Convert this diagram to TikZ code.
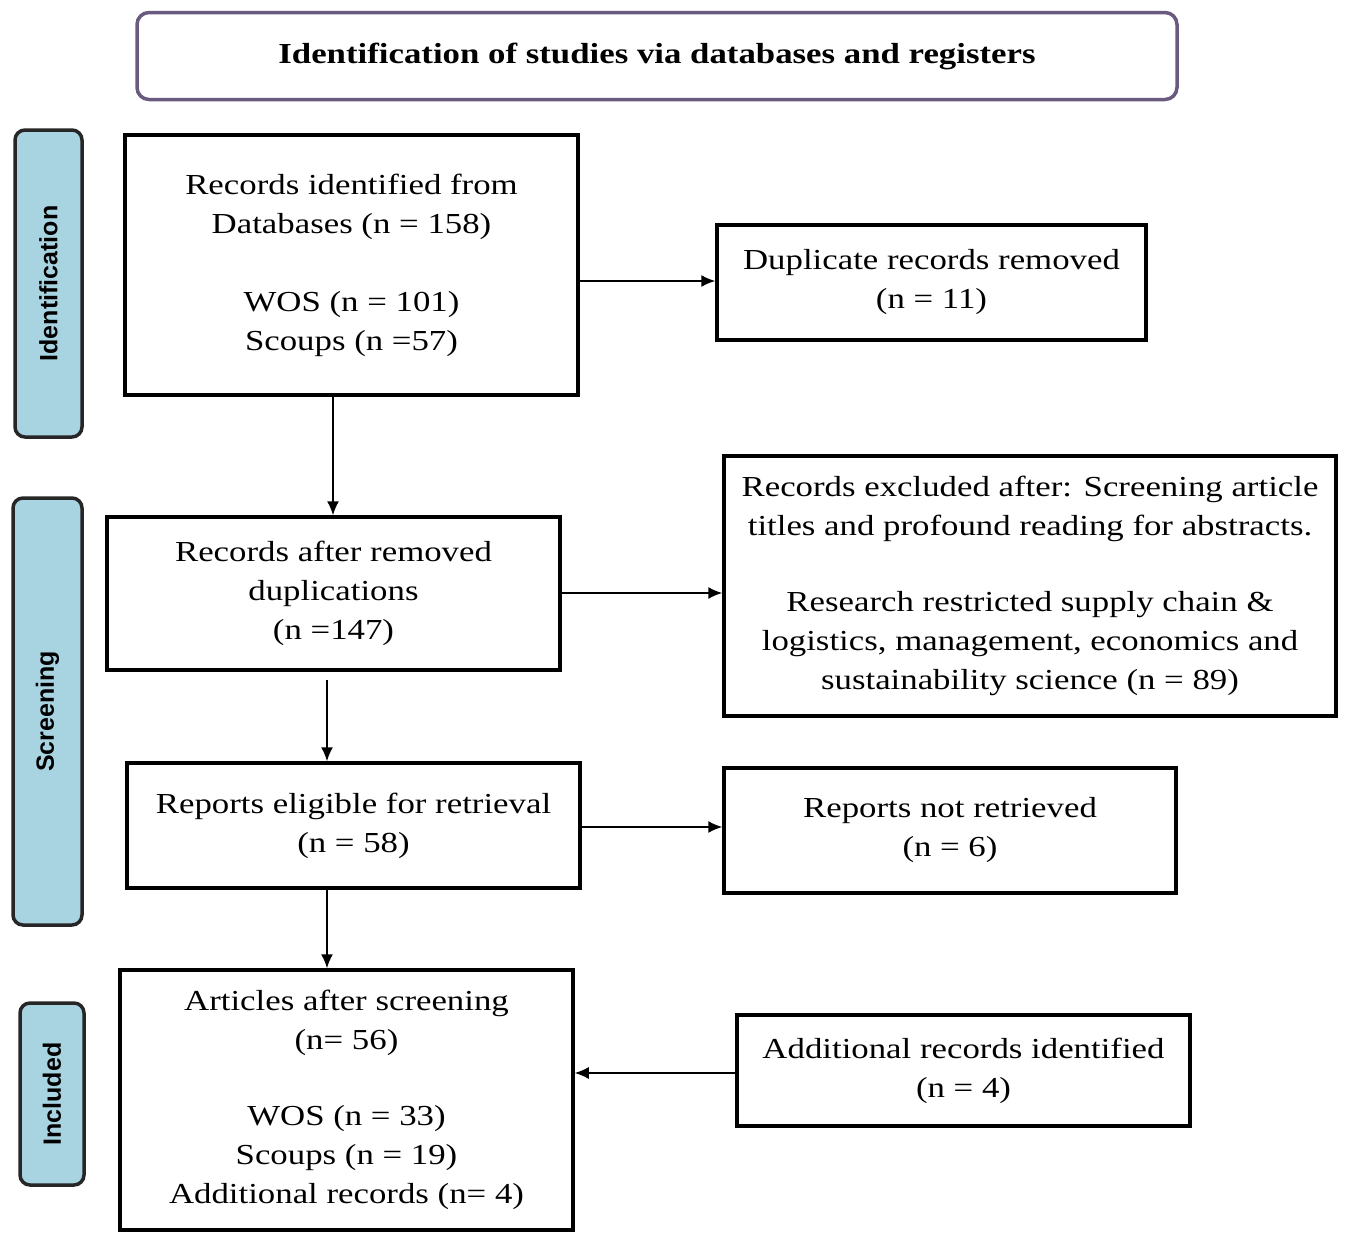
\documentclass[tikz,border=0pt]{standalone}
\usepackage{fontspec}
\setmainfont[FakeStretch=1.2]{Liberation Serif}
\newfontfamily\sidefont{Liberation Sans}
\usetikzlibrary{arrows.meta}
\begin{document}
\begin{tikzpicture}[x=1pt,y=-1pt,
  box/.style={draw,line width=3.5pt,align=center,inner sep=0pt,font=\fontsize{29}{39}\selectfont},
  side/.style={draw=black!85,line width=3.5pt,fill=sideblue,rounded corners=10pt},
  sidetext/.style={rotate=90,font=\sidefont\bfseries\fontsize{25}{30}\selectfont},
  arr/.style={-{Latex[length=14pt,width=12pt]},line width=1.5pt}]
\definecolor{sideblue}{HTML}{A8D4E2}
\definecolor{titlepurple}{HTML}{6A5A80}
\useasboundingbox (0,0) rectangle (1350,1258);
\node[draw=titlepurple,line width=3.5pt,rounded corners=12pt,minimum width=1040pt,minimum height=87pt,font=\bfseries\fontsize{29}{35}\selectfont] (title) at (657,56) {Identification of studies via databases and registers};
\node[side,minimum width=67pt,minimum height=307pt] (s1) at (48.5,283.5) {};
\node[sidetext] (t1) at (s1) {Identification};
\node[side,minimum width=69pt,minimum height=427pt] (s2) at (47.5,711.5) {};
\node[sidetext] (t2) at (s2) {Screening};
\node[side,minimum width=64pt,minimum height=182pt] (s3) at (52,1094) {};
\node[sidetext] (t3) at (s3) {Included};
\node[box,minimum width=453pt,minimum height=260pt] (A) at (351.5,265) {Records identified from\\ Databases (n = 158)\\[39pt] WOS (n = 101)\\ Scoups (n =57)};
\node[box,minimum width=429pt,minimum height=115pt] (B) at (931.5,282.5) {Duplicate records removed\\ (n = 11)};
\node[box,minimum width=453pt,minimum height=153pt] (C) at (333.5,593.5) {Records after removed\\ duplications\\ (n =147)};
\node[box,minimum width=612pt,minimum height=260pt] (D) at (1030,586) {Records excluded after: Screening article\\ titles and profound reading for abstracts.\\[37pt] Research restricted supply chain \&\\ logistics, management, economics and\\ sustainability science (n = 89)};
\node[box,minimum width=453pt,minimum height=125pt] (E) at (353.5,825.5) {Reports eligible for retrieval\\ (n = 58)};
\node[box,minimum width=452pt,minimum height=125pt] (F) at (950,830.5) {Reports not retrieved\\ (n = 6)};
\node[box,minimum width=453pt,minimum height=260pt] (G) at (346.5,1100) {Articles after screening\\ (n= 56)\\[37pt] WOS (n = 33)\\ Scoups (n = 19)\\ Additional records (n= 4)};
\node[box,minimum width=453pt,minimum height=111pt] (H) at (963.5,1070.5) {Additional records identified\\ (n = 4)};
\draw[arr] (A.east |- 0,281) -- (B.west |- 0,281);
\draw[arr] (333,395) -- (C.north -| 333,0);
\draw[arr] (C.east |- 0,593) -- (D.west |- 0,593);
\coordinate (c1) at (327,680);
\draw[arr] (c1) -- (E.north -| 327,0);
\draw[arr] (E.east |- 0,827) -- (F.west |- 0,827);
\draw[arr] (E.south -| 327,0) -- (G.north -| 327,0);
\draw[arr] (H.west |- 0,1073) -- (G.east |- 0,1073);
\end{tikzpicture}
\end{document}
